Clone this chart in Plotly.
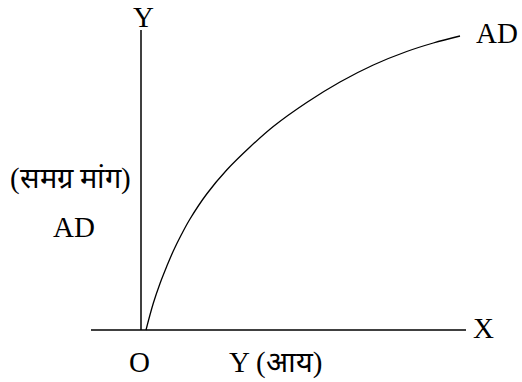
import plotly.graph_objects as go

# Aggregate demand curve (schematic), income on x, aggregate demand on y
income = [5, 12.3, 19, 25.7, 32.3, 40.7, 49, 65.7, 85.7, 109, 132.3, 165.7, 199, 232.3, 265.7, 292.3, 319]
agg_demand = [0, 26.7, 46.5, 63.5, 79, 96, 111, 136, 160, 183, 203.5, 227.5, 248, 265, 278.5, 287, 294]

x_axis_ends = [-50, 325]
y_axis_ends = [0, 300]

labels = ["Y", "X", "O", "Y (आय)", "AD", "(समग्र मांग)", "AD"]
label_x = [2, 342, -2, 134, 356, -71, -67.5]
label_y = [330, 2, -32, -32, 297, 152, 103]
label_anchor = ["top", "middle", "middle", "middle", "middle", "middle", "middle"]

FONT = "Liberation Serif, DejaVu Serif, serif"

fig = go.Figure()
fig.add_trace(go.Scatter(x=x_axis_ends, y=[0, 0], mode="lines",
                         line=dict(color="black", width=1.5), hoverinfo="skip"))
fig.add_trace(go.Scatter(x=[0, 0], y=y_axis_ends, mode="lines",
                         line=dict(color="black", width=1.5), hoverinfo="skip"))
fig.add_trace(go.Scatter(x=income, y=agg_demand, mode="lines", line_shape="spline",
                         line=dict(color="black", width=1.3, smoothing=1.0), hoverinfo="skip"))

for t, x, y, ya in zip(labels, label_x, label_y, label_anchor):
    fig.add_annotation(x=x, y=y, xref="x", yref="y", text=t, showarrow=False,
                       font=dict(family=FONT, size=29, color="black"),
                       xanchor="center", yanchor=ya, borderpad=0)

fig.update_layout(
    width=522, height=382,
    margin=dict(l=0, r=0, t=0, b=0),
    paper_bgcolor="white", plot_bgcolor="white",
    showlegend=False,
    xaxis=dict(range=[-141, 381], visible=False, fixedrange=True),
    yaxis=dict(range=[-52, 330], visible=False, fixedrange=True),
)
fig.write_html("out.html", config={"displayModeBar": False},
               post_script="document.body.style.margin='0';")
